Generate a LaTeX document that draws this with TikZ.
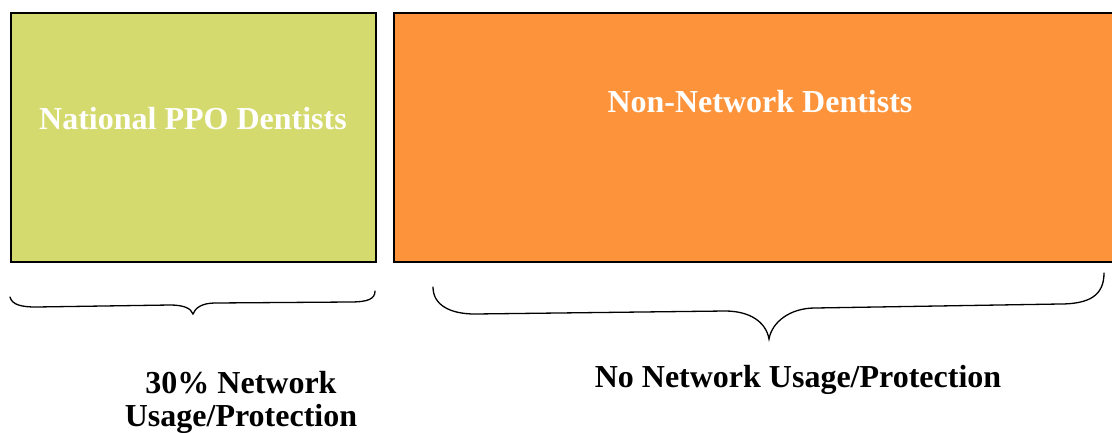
\documentclass[tikz,border=0pt]{standalone}
\usepackage{fontspec}
\setmainfont{Liberation Serif}
\usepackage{xcolor}
\usetikzlibrary{positioning}

\definecolor{ppogreen}{RGB}{212,218,110}
\definecolor{nonorange}{RGB}{253,148,60}

\begin{document}
\begin{tikzpicture}[x=1pt, y=-1pt,
            groupbox/.style={rectangle, draw=black, line width=1.4pt, minimum height=249pt, inner sep=0pt},
            boxtext/.style={font=\fontsize{32}{33}\selectfont\bfseries, text=white, inner sep=0pt},
            bracetext/.style={font=\fontsize{32}{33}\selectfont\bfseries, align=center, inner sep=0pt},
            brace/.style={line width=1.3pt, line cap=round}
        ]
            \useasboundingbox (0,0) rectangle (1112,432);

% Dentist groups
            \node[groupbox, fill=ppogreen, minimum width=365pt] (ppo) at (193.5,137.5) {};
            \node[groupbox, fill=nonorange, minimum width=722pt] (nonnet) at (755,137.5) {};
            \node[boxtext] (ppotext) at (193,119) {National PPO Dentists};
            \node[boxtext] (nonnettext) at (760,102) {Non-Network Dentists};

% Braces
            \draw[brace] (10,297) .. controls (12,305) and (22,307) .. (36,307) -- (170,305)
                .. controls (183,305) and (191,308) .. (193,314)
                .. controls (195,308) and (202,303) .. (215,303) -- (350,302)
                .. controls (368,302) and (375,299) .. (375,291);
            \draw[brace] (433,287) .. controls (433,305) and (450,314) .. (475,314) -- (725,311)
                .. controls (750,311) and (766,322) .. (769,339)
                .. controls (772,322) and (790,308) .. (815,308) -- (1060,304)
                .. controls (1090,304) and (1104,295) .. (1104,273);

% Usage labels
            \node[bracetext] (ppousage) at (241,402) {30\% Network\\Usage/Protection};
            \node[bracetext] (nonnetusage) at (798,380) {No Network Usage/Protection};

        \end{tikzpicture}
\end{document}
